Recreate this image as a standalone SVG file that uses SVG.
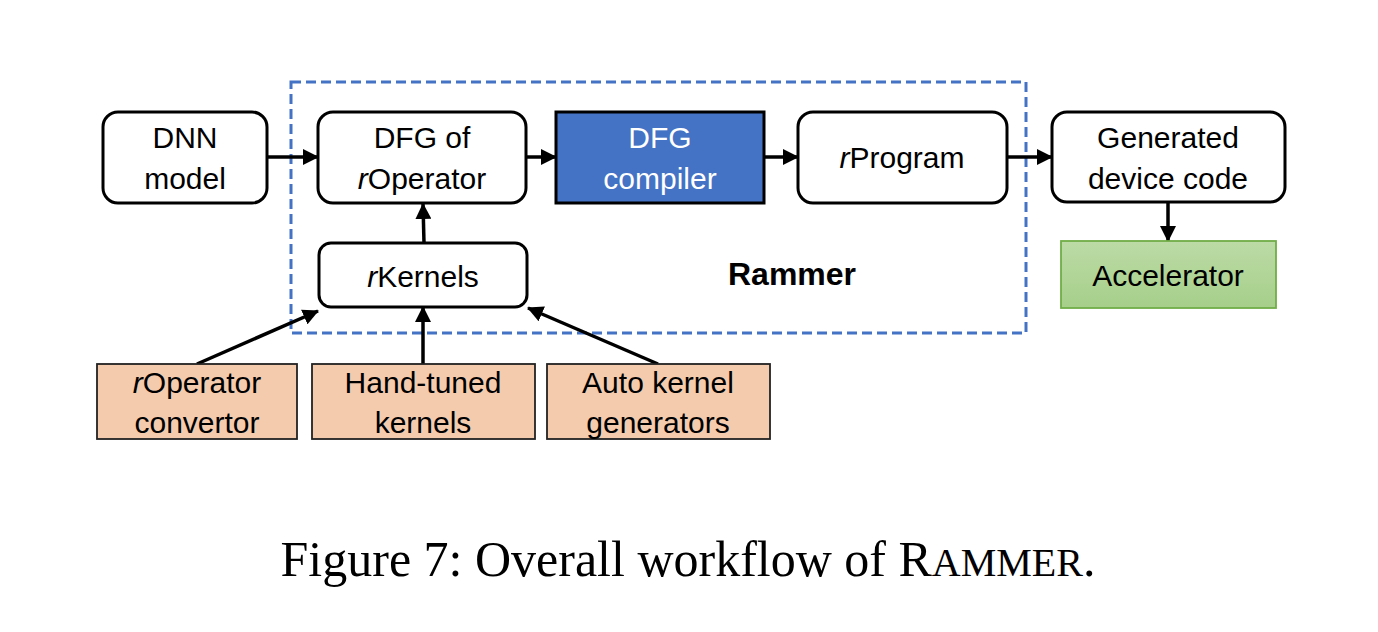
<svg xmlns="http://www.w3.org/2000/svg" width="1378" height="632" viewBox="0 0 1378 632">
<style>
text{font-family:"Liberation Sans",Arial,sans-serif;font-size:30px;fill:#000;text-anchor:middle}
.rr{fill:#fff;stroke:#000;stroke-width:3}
.org{fill:#F5CBAE;stroke:#222;stroke-width:1.8}
.conn{stroke:#000;stroke-width:3.5;fill:none;marker-end:url(#ah)}
.cap{font-family:"Liberation Serif","Times New Roman",serif;font-size:50px}
</style>
<defs>
<marker id="ah" markerUnits="userSpaceOnUse" markerWidth="16" markerHeight="16" refX="15" refY="8" orient="auto">
<path d="M0,0 L16,8 L0,16 z" fill="#000"/>
</marker>
<linearGradient id="gr" x1="0" y1="0" x2="0" y2="1">
<stop offset="0" stop-color="#BCDBA6"/>
<stop offset="1" stop-color="#A6CF8A"/>
</linearGradient>
</defs>
<rect id="rammer-box" x="291" y="82" width="735" height="251" fill="none" stroke="#4472C4" stroke-width="3" stroke-dasharray="10,5"/>
<text x="792" y="285" style="font-weight:bold;font-size:32px">Rammer</text>
<g id="connectors">
<line class="conn" x1="267" y1="157" x2="318" y2="157"/>
<line class="conn" x1="526" y1="157" x2="556" y2="157"/>
<line class="conn" x1="764" y1="157" x2="798" y2="157"/>
<line class="conn" x1="1007" y1="157" x2="1052" y2="157"/>
<line class="conn" x1="1168" y1="202" x2="1168" y2="241"/>
<line class="conn" x1="424" y1="243" x2="423" y2="204"/>
<line class="conn" x1="197" y1="364" x2="318" y2="311"/>
<line class="conn" x1="423" y1="364" x2="423" y2="307"/>
<line class="conn" x1="658" y1="364" x2="528" y2="308"/>
</g>
<g id="dnn">
<rect class="rr" x="103" y="112" width="164" height="91" rx="15"/>
<text x="185" y="148">DNN</text>
<text x="185" y="189">model</text>
</g>
<g id="dfg">
<rect class="rr" x="318" y="112" width="208" height="91" rx="15"/>
<text x="422" y="148">DFG of</text>
<text x="422" y="189"><tspan font-style="italic">r</tspan>Operator</text>
</g>
<g id="compiler">
<rect x="556" y="112" width="208" height="91" fill="#4472C4" stroke="#000" stroke-width="3"/>
<text x="660" y="148" style="fill:#fff">DFG</text>
<text x="660" y="189" style="fill:#fff">compiler</text>
</g>
<g id="rprogram">
<rect class="rr" x="798" y="112" width="209" height="91" rx="15"/>
<text x="902" y="168"><tspan font-style="italic">r</tspan>Program</text>
</g>
<g id="generated">
<rect class="rr" x="1052" y="112" width="233" height="90" rx="15"/>
<text x="1168" y="148">Generated</text>
<text x="1168" y="189">device code</text>
</g>
<g id="accelerator">
<rect x="1061" y="241" width="215" height="67" fill="url(#gr)" stroke="#70AD47" stroke-width="1.8"/>
<text x="1168" y="286">Accelerator</text>
</g>
<g id="rkernels">
<rect class="rr" x="319" y="243" width="208" height="64" rx="12"/>
<text x="423" y="287"><tspan font-style="italic">r</tspan>Kernels</text>
</g>
<g id="convertor">
<rect class="org" x="97" y="364" width="200" height="75"/>
<text x="197" y="393"><tspan font-style="italic">r</tspan>Operator</text>
<text x="197" y="433">convertor</text>
</g>
<g id="handtuned">
<rect class="org" x="312" y="364" width="223" height="75"/>
<text x="423" y="393">Hand-tuned</text>
<text x="423" y="433">kernels</text>
</g>
<g id="autokernel">
<rect class="org" x="547" y="364" width="223" height="75"/>
<text x="658" y="393">Auto kernel</text>
<text x="658" y="433">generators</text>
</g>
<text class="cap" x="688" y="576">Figure 7: Overall workflow of R<tspan font-size="40">AMMER</tspan>.</text>
</svg>
